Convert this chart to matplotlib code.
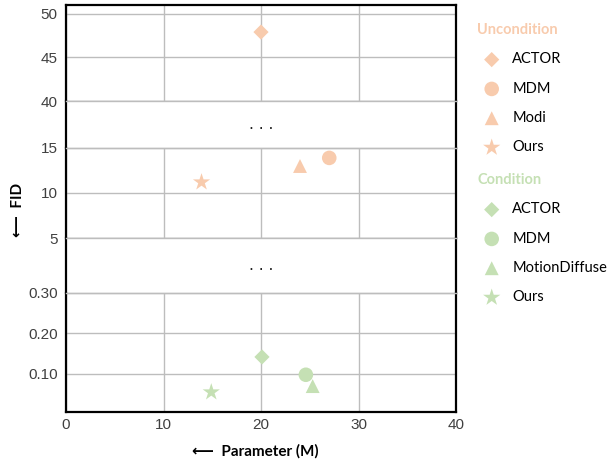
import numpy as np
import matplotlib.pyplot as plt

# data (x = parameters in M, y = FID)
models_unc = ['ACTOR', 'MDM', 'Modi', 'Ours']
param_unc = [20.0, 27.0, 24.0, 13.9]
fid_unc = [47.9, 13.9, 13.0, 11.2]

models_cond = ['ACTOR', 'MDM', 'MotionDiffuse', 'Ours']
param_cond = [20.1, 24.6, 25.3, 14.9]
fid_cond = [0.142, 0.098, 0.070, 0.055]

markers = ['D', 'o', '^', '*']
sizes = [60, 110, 100, 170]

x_ticks = [0, 10, 20, 30, 40]
top_ticks = [40, 45, 50]
mid_ticks = [5, 10, 15]
low_ticks = [0.10, 0.20, 0.30]

c_unc = '#F8CBAD'
c_cond = '#C5E0B4'
grid_c = '#BDBDBD'

fig = plt.figure(figsize=(6.08, 4.63), dpi=100)
gs = fig.add_gridspec(5, 1, height_ratios=[96, 47, 90, 55, 119], hspace=0,
                      left=66/608, right=456/608, top=1-5/463, bottom=1-412/463)
axs = [fig.add_subplot(gs[i]) for i in range(5)]
axA, gap1, axB, gap2, axC = axs

for ax in axs:
    ax.set_xlim(0, 40)
    ax.tick_params(length=0, labelsize=11, labelcolor='#404040', pad=6)
    for s in ['left', 'right']:
        ax.spines[s].set_color('black')
        ax.spines[s].set_linewidth(1.6)
    for s in ['top', 'bottom']:
        ax.spines[s].set_color(grid_c)
        ax.spines[s].set_linewidth(1.0)
    ax.set_xticks(x_ticks)
    ax.tick_params(labelbottom=False)
axA.spines['top'].set_color('black')
axA.spines['top'].set_linewidth(1.6)
axC.spines['bottom'].set_color('black')
axC.spines['bottom'].set_linewidth(1.6)

for g in [gap1, gap2]:
    g.set_yticks([])
    g.set_xticks([])
    g.set_ylim(0, 1)
    g.text(20, 0.5, '. . .', ha='center', va='center', fontsize=11, color='#222222')

axA.set_ylim(40, 51)
axA.set_yticks(top_ticks)
axB.set_ylim(5, 15)
axB.set_yticks(mid_ticks)
axC.set_ylim(0.006, 0.30)
axC.set_yticks(low_ticks)
axC.set_yticklabels(['%.2f' % t for t in low_ticks])
axC.tick_params(labelbottom=True)
axC.tick_params(axis='x', pad=4)

for ax in [axA, axB, axC]:
    ax.grid(True, color=grid_c, linewidth=1.0)
    ax.set_axisbelow(True)
    for lab in ax.get_xticklabels() + ax.get_yticklabels():
        lab.set_family('Liberation Sans')

h_unc = []
for i in range(4):
    tgt = axA if fid_unc[i] > 40 else axB
    h = tgt.scatter(param_unc[i], fid_unc[i], marker=markers[i], s=sizes[i],
                    color=c_unc, edgecolors='none', label=models_unc[i], zorder=3)
    h_unc.append(h)

h_cond = []
for i in range(4):
    h = axC.scatter(param_cond[i], fid_cond[i], marker=markers[i], s=sizes[i],
                    color=c_cond, edgecolors='none', label=models_cond[i], zorder=3)
    h_cond.append(h)

fam = ['Lato', 'DejaVu Sans']
leg1 = fig.legend(h_unc, models_unc, loc='upper left', bbox_to_anchor=(464/608, 1-10/463),
                  frameon=False, title='Uncondition', alignment='left', labelspacing=1.05,
                  handletextpad=0.4, prop={'family': fam, 'size': 10.5},
                  title_fontproperties={'family': fam, 'size': 10.5, 'weight': 'bold'},
                  scatterpoints=1)
leg1.get_title().set_color(c_unc)
leg2 = fig.legend(h_cond, models_cond, loc='upper left', bbox_to_anchor=(464/608, 1-160/463),
                  frameon=False, title='Condition', alignment='left', labelspacing=1.05,
                  handletextpad=0.4, prop={'family': fam, 'size': 10.5},
                  title_fontproperties={'family': fam, 'size': 10.5, 'weight': 'bold'},
                  scatterpoints=1)
leg2.get_title().set_color(c_cond)

fig.text(255/608, 1-451/463, '⟵  Parameter (M)', ha='center', va='center',
         fontsize=11, fontweight='bold', family=fam)
fig.text(18/608, 1-210/463, '⟵  FID', ha='center', va='center', rotation=90,
         fontsize=11, fontweight='bold', family=fam)

fig.savefig('out.png', dpi=100)
